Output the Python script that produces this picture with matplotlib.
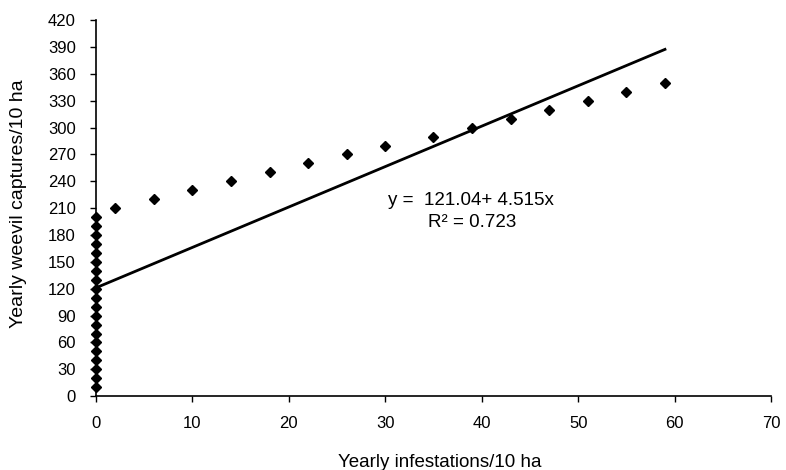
import matplotlib
matplotlib.use("Agg")
import matplotlib.pyplot as plt
import numpy as np

plt.rcParams['font.family'] = ['Liberation Sans', 'DejaVu Sans']

# observed points
x_zero = [0] * 20
y_zero = [10, 20, 30, 40, 50, 60, 70, 80, 90, 100,
          110, 120, 130, 140, 150, 160, 170, 180, 190, 200]
x_pos = [2, 6, 10, 14, 18, 22, 26, 30, 35, 39, 43, 47, 51, 55, 59]
y_pos = [210, 220, 230, 240, 250, 260, 270, 280, 290, 300, 310, 320, 330, 340, 350]

# fitted line
intercept = 121.04
slope = 4.515
fit_x = [0, 59]

x_ticks = [0, 10, 20, 30, 40, 50, 60, 70]
y_ticks = list(range(0, 421, 30))

fig = plt.figure(figsize=(7.86, 4.7), dpi=100)
ax = fig.add_axes([0.122, 0.157, 0.859, 0.8])

ax.plot(x_zero + x_pos, y_zero + y_pos, linestyle="none", marker="D",
        markersize=5, color="black", clip_on=False, zorder=3)
fx = np.array(fit_x)
ax.plot(fx, intercept + slope * fx, color="black", linewidth=2, zorder=2)

ax.text(30.3, 219, "y =  121.04+ 4.515x", fontsize=13.5, ha="left", va="center")
ax.text(34.4, 194, "R² = 0.723", fontsize=13.5, ha="left", va="center")

ax.set_xlim(0, 70)
ax.set_ylim(0, 420)
ax.set_xticks(x_ticks)
ax.set_yticks(y_ticks)
ax.tick_params(direction="out", length=4.5, width=1, labelsize=12)
ax.tick_params(axis="x", pad=10)
ax.tick_params(axis="y", pad=10)
for side in ["top", "right"]:
    ax.spines[side].set_visible(False)
for side in ["left", "bottom"]:
    ax.spines[side].set_linewidth(1.2)

fig.text(0.56, 0.006, "Yearly infestations/10 ha", fontsize=13.5,
         ha="center", va="baseline")
fig.text(0.023, 0.567, "Yearly weevil captures/10 ha", fontsize=14,
         ha="center", va="center", rotation=90)

fig.savefig("out.png", dpi=100)
